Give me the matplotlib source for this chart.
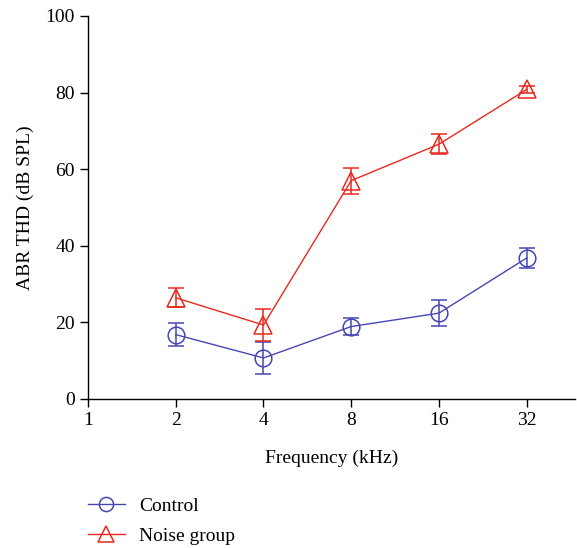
import matplotlib
matplotlib.use("Agg")
import matplotlib.pyplot as plt
from matplotlib.container import ErrorbarContainer

plt.rcParams['font.family'] = ['Liberation Serif', 'DejaVu Serif']

freq_labels = ["1", "2", "4", "8", "16", "32"]
freq_points = ["2", "4", "8", "16", "32"]
control_mean = [16.8, 10.7, 18.9, 22.4, 36.8]
control_err = [2.9, 4.2, 2.2, 3.4, 2.7]
noise_mean = [26.4, 19.3, 57.0, 66.5, 80.8]
noise_err = [2.5, 4.2, 3.4, 2.6, 0.8]

blue = '#4646b4'
red = '#e8281e'
fs = 14

fig = plt.figure(figsize=(5.77, 5.48), dpi=100)
ax = fig.add_axes([0.1525, 0.272, 0.844, 0.699])

xpos_all = list(range(len(freq_labels)))
xpos = [freq_labels.index(f) for f in freq_points]

ax.errorbar(xpos, control_mean, yerr=control_err, color=blue, marker='o', ms=12,
            mfc='none', mec=blue, mew=1.1, lw=1.0, capsize=6, capthick=1.1,
            elinewidth=1.1, label='Control')
ax.errorbar(xpos, noise_mean, yerr=noise_err, color=red, marker='^', ms=13,
            mfc='none', mec=red, mew=1.1, lw=1.0, capsize=6, capthick=1.1,
            elinewidth=1.1, label='Noise group')

ax.set_xlim(0, 5.55)
ax.set_ylim(0, 100)
ax.set_xticks(xpos_all)
ax.set_xticklabels(freq_labels)
ax.set_yticks([0, 20, 40, 60, 80, 100])
ax.spines['top'].set_visible(False)
ax.spines['right'].set_visible(False)
for s in ['left', 'bottom']:
    ax.spines[s].set_linewidth(1.0)
ax.tick_params(axis='both', labelsize=fs, length=6, width=1.0, direction='out')
ax.set_xlabel('Frequency (kHz)', fontsize=fs, labelpad=15)
ax.set_ylabel('ABR THD (dB SPL)', fontsize=fs, labelpad=8)

h, l = ax.get_legend_handles_labels()
handles = [hh[0] if isinstance(hh, ErrorbarContainer) else hh for hh in h]
fig.legend(handles, l, loc='upper left', bbox_to_anchor=(0.135, 0.11),
           frameon=False, fontsize=fs, handlelength=1.9, handletextpad=0.75,
           labelspacing=0.65, borderpad=0, markerscale=0.85)

fig.savefig('out.png', dpi=100)
